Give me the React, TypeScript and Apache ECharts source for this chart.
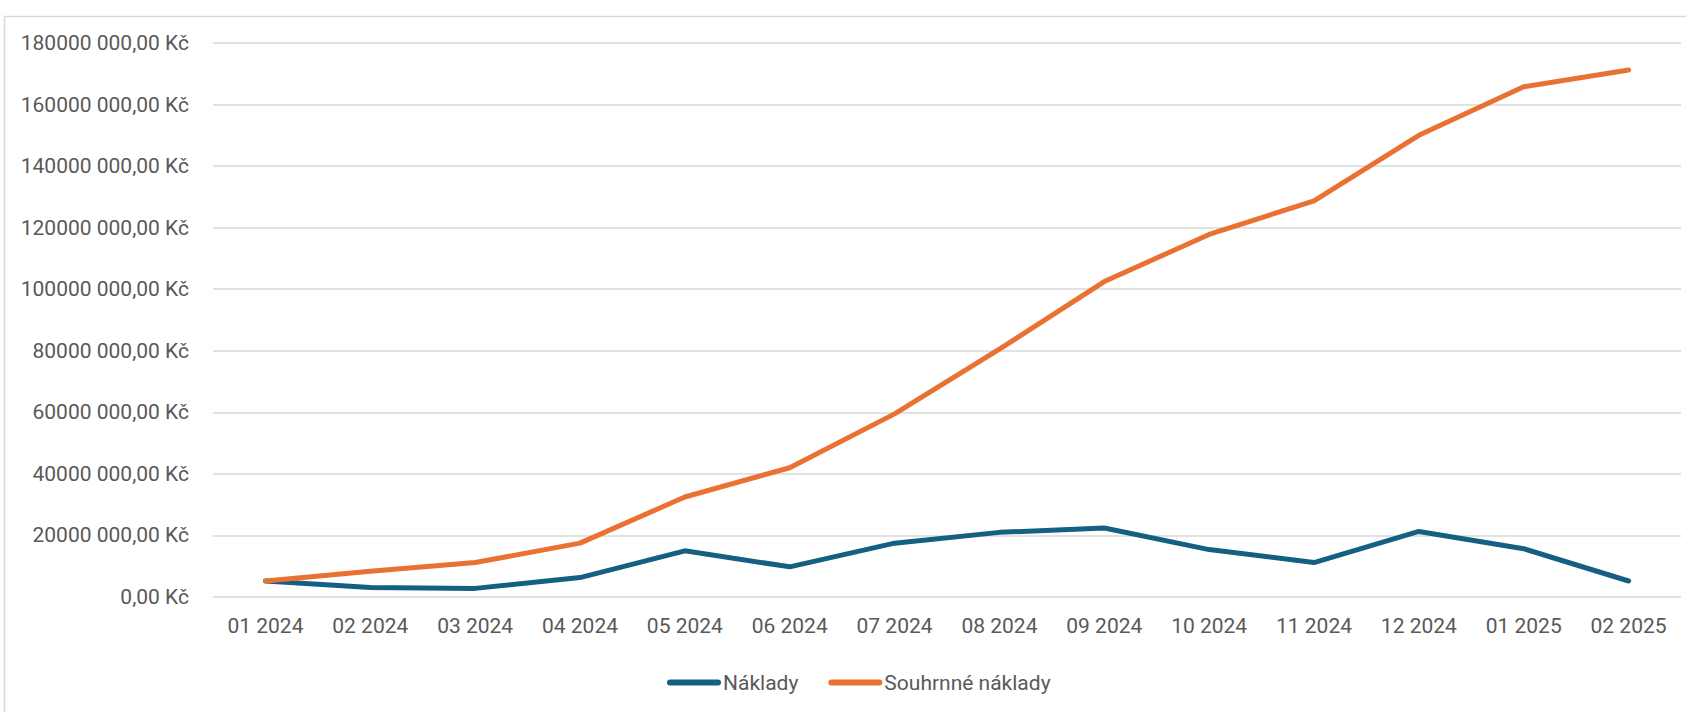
import React, { useEffect, useRef } from "react";
import * as echarts from "echarts";

const categories = [
  "01 2024", "02 2024", "03 2024", "04 2024", "05 2024", "06 2024", "07 2024",
  "08 2024", "09 2024", "10 2024", "11 2024", "12 2024", "01 2025", "02 2025",
];
const seriesNames = ["Náklady", "Souhrnné náklady"];
const naklady = [
  5200000, 3100000, 2800000, 6300000, 15000000, 9800000, 17500000,
  21000000, 22400000, 15400000, 11200000, 21300000, 15700000, 5200000,
];
const souhrnneNaklady = [
  5200000, 8400000, 11200000, 17500000, 32500000, 42000000, 59500000,
  80500000, 102500000, 117800000, 128700000, 150000000, 165800000, 171200000,
];
const yMin = 0;
const yMax = 180000000;
const yInterval = 20000000;

const colors = ["#156082", "#E97132"];
const textColor = "#595959";
const fontFamily = "Roboto, 'Noto Sans', sans-serif";

function formatKc(v: number): string {
  if (v === 0) return "0,00 Kč";
  const thousands = Math.floor(v / 1000);
  const rest = String(v % 1000).padStart(3, "0");
  return `${thousands} ${rest},00 Kč`;
}

export default function App() {
  const ref = useRef<HTMLDivElement>(null);
  useEffect(() => {
    document.body.style.margin = "0";
    if (!ref.current) return;
    const chart = echarts.init(ref.current, null, { renderer: "svg" });
    const legendIcon = "path://M3,0 L51,0 A3,3 0 0 1 51,6 L3,6 A3,3 0 0 1 3,0 Z";
    chart.setOption({
      animation: false,
      backgroundColor: "#ffffff",
      textStyle: { fontFamily },
      graphic: [
        {
          type: "rect",
          left: 2,
          top: 14,
          shape: { width: 1720, height: 720 },
          style: { fill: "none", stroke: "#d9d9d9", lineWidth: 1.5 },
          silent: true,
        },
      ],
      grid: { left: 213, right: 5, top: 43, bottom: 115, containLabel: false },
      legend: {
        data: seriesNames.map((n, i) => ({ name: n, icon: legendIcon, itemStyle: { color: colors[i] } })),
        left: 662,
        top: 667,
        itemWidth: 54,
        itemHeight: 6,
        itemGap: 30,
        textStyle: { fontSize: 21, color: textColor, fontFamily, padding: [0, 0, 0, -3] },
      },
      xAxis: {
        type: "category",
        data: categories,
        boundaryGap: true,
        axisLine: { show: false },
        axisTick: { show: false },
        axisLabel: { color: textColor, fontSize: 21, fontFamily, margin: 18, interval: 0 },
      },
      yAxis: {
        type: "value",
        min: yMin,
        max: yMax,
        interval: yInterval,
        axisLine: { show: false },
        axisTick: { show: false },
        splitLine: { lineStyle: { color: "#d9d9d9", width: 1.5 } },
        axisLabel: {
          color: textColor,
          fontSize: 21,
          fontFamily,
          margin: 24,
          formatter: (v: number) => formatKc(v),
        },
      },
      series: [
        {
          name: seriesNames[0],
          type: "line",
          data: naklady,
          symbol: "none",
          color: colors[0],
          lineStyle: { color: colors[0], width: 5, cap: "round", join: "round" },
          z: 3,
        },
        {
          name: seriesNames[1],
          type: "line",
          data: souhrnneNaklady,
          symbol: "none",
          color: colors[1],
          lineStyle: { color: colors[1], width: 5, cap: "round", join: "round" },
          z: 4,
        },
      ],
    });
    return () => chart.dispose();
  }, []);
  return <div ref={ref} style={{ width: 1686, height: 712 }} />;
}
